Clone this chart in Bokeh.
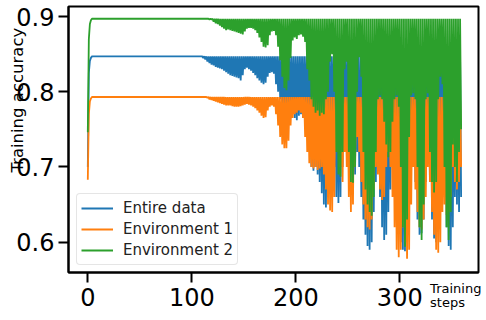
import math
from bokeh.plotting import figure
from bokeh.models import Range1d, FixedTicker, Legend, LegendItem
from bokeh.embed import file_html
from bokeh.resources import INLINE

# ---------------- data ----------------
SERIES_NAMES = ["Entire data", "Environment 1", "Environment 2"]
SERIES_COLORS = ["#1f77b4", "#ff7f0e", "#2ca02c"]

N_STEPS = 360          # training steps 0 .. 359
DIP_START = 111        # first odd step where the curves start oscillating

X_TICKS = [0, 100, 200, 300]
Y_TICKS = [0.6, 0.7, 0.8, 0.9]

# first training steps (initial rise)
entire_early = [0.700, 0.825, 0.841, 0.845, 0.847]
env1_early = [0.683, 0.770, 0.787, 0.791, 0.793]
env2_early = [0.746, 0.870, 0.890, 0.895, 0.897]

# plateau (upper value of the oscillation)
entire_peak = 0.847
env1_peak = 0.793
env2_peak = 0.897

# lower values of the oscillation, at odd steps 111, 113, ..., 359
entire_dips = [
    0.845, 0.843, 0.840, 0.838, 0.836, 0.835, 0.833, 0.832, 0.831, 0.830,
    0.828, 0.826, 0.824, 0.822, 0.821, 0.820, 0.819, 0.818, 0.815, 0.822,
    0.830, 0.832, 0.830, 0.828, 0.825, 0.822, 0.818, 0.815, 0.812, 0.810,
    0.812, 0.820, 0.825, 0.826, 0.824, 0.810, 0.800, 0.790, 0.780, 0.770,
    0.770, 0.775, 0.780, 0.775, 0.765, 0.762, 0.768, 0.770, 0.765, 0.760,
    0.740, 0.720, 0.700, 0.695, 0.700, 0.690, 0.680, 0.665, 0.650, 0.646,
    0.660, 0.740, 0.760, 0.700, 0.660, 0.652, 0.660, 0.700, 0.740, 0.750,
    0.700, 0.680, 0.670, 0.690, 0.720, 0.700, 0.660, 0.630, 0.610, 0.595,
    0.590, 0.600, 0.640, 0.680, 0.700, 0.660, 0.620, 0.603, 0.610, 0.640,
    0.670, 0.700, 0.720, 0.690, 0.640, 0.600, 0.590, 0.588, 0.600, 0.650,
    0.700, 0.720, 0.680, 0.630, 0.610, 0.612, 0.630, 0.680, 0.720, 0.680,
    0.630, 0.605, 0.600, 0.630, 0.680, 0.700, 0.660, 0.620, 0.595, 0.590,
    0.620, 0.660, 0.650, 0.640, 0.660,
]
env1_dips = [
    0.793, 0.793, 0.792, 0.790, 0.789, 0.788, 0.787, 0.786, 0.785, 0.784,
    0.783, 0.782, 0.782, 0.782, 0.781, 0.780, 0.780, 0.780, 0.781, 0.782,
    0.783, 0.784, 0.783, 0.782, 0.780, 0.778, 0.775, 0.772, 0.768, 0.765,
    0.766, 0.775, 0.780, 0.782, 0.780, 0.770, 0.755, 0.740, 0.730, 0.725,
    0.725, 0.735, 0.755, 0.765, 0.770, 0.772, 0.775, 0.772, 0.765, 0.740,
    0.720, 0.705, 0.700, 0.698, 0.700, 0.696, 0.698, 0.700, 0.690, 0.670,
    0.650, 0.642, 0.640, 0.660, 0.720, 0.730, 0.700, 0.680, 0.720, 0.700,
    0.660, 0.640, 0.650, 0.700, 0.740, 0.720, 0.680, 0.650, 0.630, 0.620,
    0.617, 0.630, 0.670, 0.700, 0.690, 0.670, 0.656, 0.660, 0.700, 0.720,
    0.700, 0.660, 0.620, 0.590, 0.580, 0.590, 0.620, 0.600, 0.578, 0.590,
    0.650, 0.700, 0.670, 0.640, 0.620, 0.617, 0.630, 0.660, 0.700, 0.680,
    0.640, 0.610, 0.590, 0.586, 0.600, 0.640, 0.650, 0.636, 0.640, 0.660,
    0.700, 0.680, 0.670, 0.680, 0.700,
]
env2_dips = [
    0.897, 0.897, 0.897, 0.896, 0.896, 0.893, 0.891, 0.890, 0.888, 0.886,
    0.884, 0.882, 0.883, 0.882, 0.881, 0.880, 0.879, 0.878, 0.877, 0.876,
    0.880, 0.884, 0.885, 0.885, 0.884, 0.882, 0.878, 0.872, 0.866, 0.860,
    0.859, 0.862, 0.875, 0.880, 0.881, 0.875, 0.860, 0.842, 0.820, 0.805,
    0.802, 0.815, 0.845, 0.868, 0.872, 0.870, 0.875, 0.876, 0.873, 0.866,
    0.830, 0.815, 0.790, 0.780, 0.772, 0.775, 0.768, 0.772, 0.770, 0.790,
    0.800, 0.840, 0.850, 0.800, 0.720, 0.690, 0.687, 0.720, 0.830, 0.840,
    0.720, 0.680, 0.679, 0.700, 0.800, 0.846, 0.820, 0.720, 0.670, 0.650,
    0.640, 0.635, 0.660, 0.720, 0.790, 0.795, 0.790, 0.760, 0.730, 0.713,
    0.720, 0.760, 0.790, 0.795, 0.780, 0.700, 0.620, 0.594, 0.630, 0.740,
    0.795, 0.798, 0.790, 0.700, 0.620, 0.603, 0.650, 0.790, 0.798, 0.720,
    0.680, 0.666, 0.680, 0.790, 0.820, 0.810, 0.700, 0.620, 0.603, 0.640,
    0.730, 0.700, 0.680, 0.720, 0.750,
]


def build_series(early, peak, dips):
    ys = []
    for s in range(N_STEPS):
        if s < len(early):
            ys.append(early[s])
        elif s < DIP_START or s % 2 == 0:
            ys.append(peak)
        else:
            ys.append(dips[(s - DIP_START) // 2])
    return ys


steps = list(range(N_STEPS))
series = [
    build_series(entire_early, entire_peak, entire_dips),
    build_series(env1_early, env1_peak, env1_dips),
    build_series(env2_early, env2_peak, env2_dips),
]

# ---------------- figure ----------------
FONT = "DejaVu Sans"
NBSP = "\u00a0"

p = figure(
    width=486, height=320,
    output_backend="svg", toolbar_location=None,
    x_range=Range1d(-18.56, 375.7), y_range=Range1d(0.5597, 0.9133),
    min_border_left=68, min_border_right=8, min_border_top=6, min_border_bottom=48,
)
p.xgrid.visible = False
p.ygrid.visible = False
p.outline_line_color = "black"
p.outline_line_width = 2
p.outline_line_alpha = 1.0

p.xaxis.ticker = FixedTicker(ticks=X_TICKS)
p.yaxis.ticker = FixedTicker(ticks=Y_TICKS)
for ax in (p.xaxis[0], p.yaxis[0]):
    ax.major_label_text_font = FONT
    ax.major_label_text_font_size = "24px"
    ax.major_label_text_color = "black"
    ax.major_tick_out = 10
    ax.major_tick_in = 0
    ax.major_tick_line_width = 2
    ax.major_tick_line_color = "black"
    ax.minor_tick_out = 0
    ax.minor_tick_in = 0
    ax.axis_line_width = 2
    ax.axis_line_color = "black"
    ax.axis_label_text_font = FONT
    ax.axis_label_text_font_style = "normal"
    ax.axis_label_text_color = "black"
p.xaxis.major_label_standoff = 5
p.yaxis.major_label_standoff = 4

# axis titles, pulled in over the tick-label band as in the reference
# (non-breaking spaces only shift the visible words along the axis)
yax = p.yaxis[0]
yax.axis_label = NBSP * 15 + "Training accuracy"
yax.axis_label_text_font_size = "16.5px"
yax.axis_label_standoff = -14

xax = p.xaxis[0]
xax.axis_label = "Training" + NBSP * 11 + "\nsteps" + NBSP * 15
xax.axis_label_text_font_size = "13px"
xax.axis_label_text_line_height = 0.95
xax.axis_label_standoff = -28
try:
    xax.axis_label_align = "end"
except AttributeError:
    pass

renderers = []
for ys, color in zip(series, SERIES_COLORS):
    r = p.line(steps, ys, line_color=color, line_width=1.8, line_join="bevel")
    renderers.append(r)

legend = Legend(
    items=[LegendItem(label=n, renderers=[r]) for n, r in zip(SERIES_NAMES, renderers)],
    location=(8, 7),
    label_text_font=FONT, label_text_font_size="15px", label_text_color="#222222",
    glyph_width=32, glyph_height=20, label_height=20, label_standoff=10,
    padding=4, spacing=1, margin=0,
    border_line_color="#cccccc", border_line_width=1, border_radius=4,
    background_fill_color="white", background_fill_alpha=0.8,
)
p.add_layout(legend)

open("out.html", "w").write(file_html(p, INLINE))
